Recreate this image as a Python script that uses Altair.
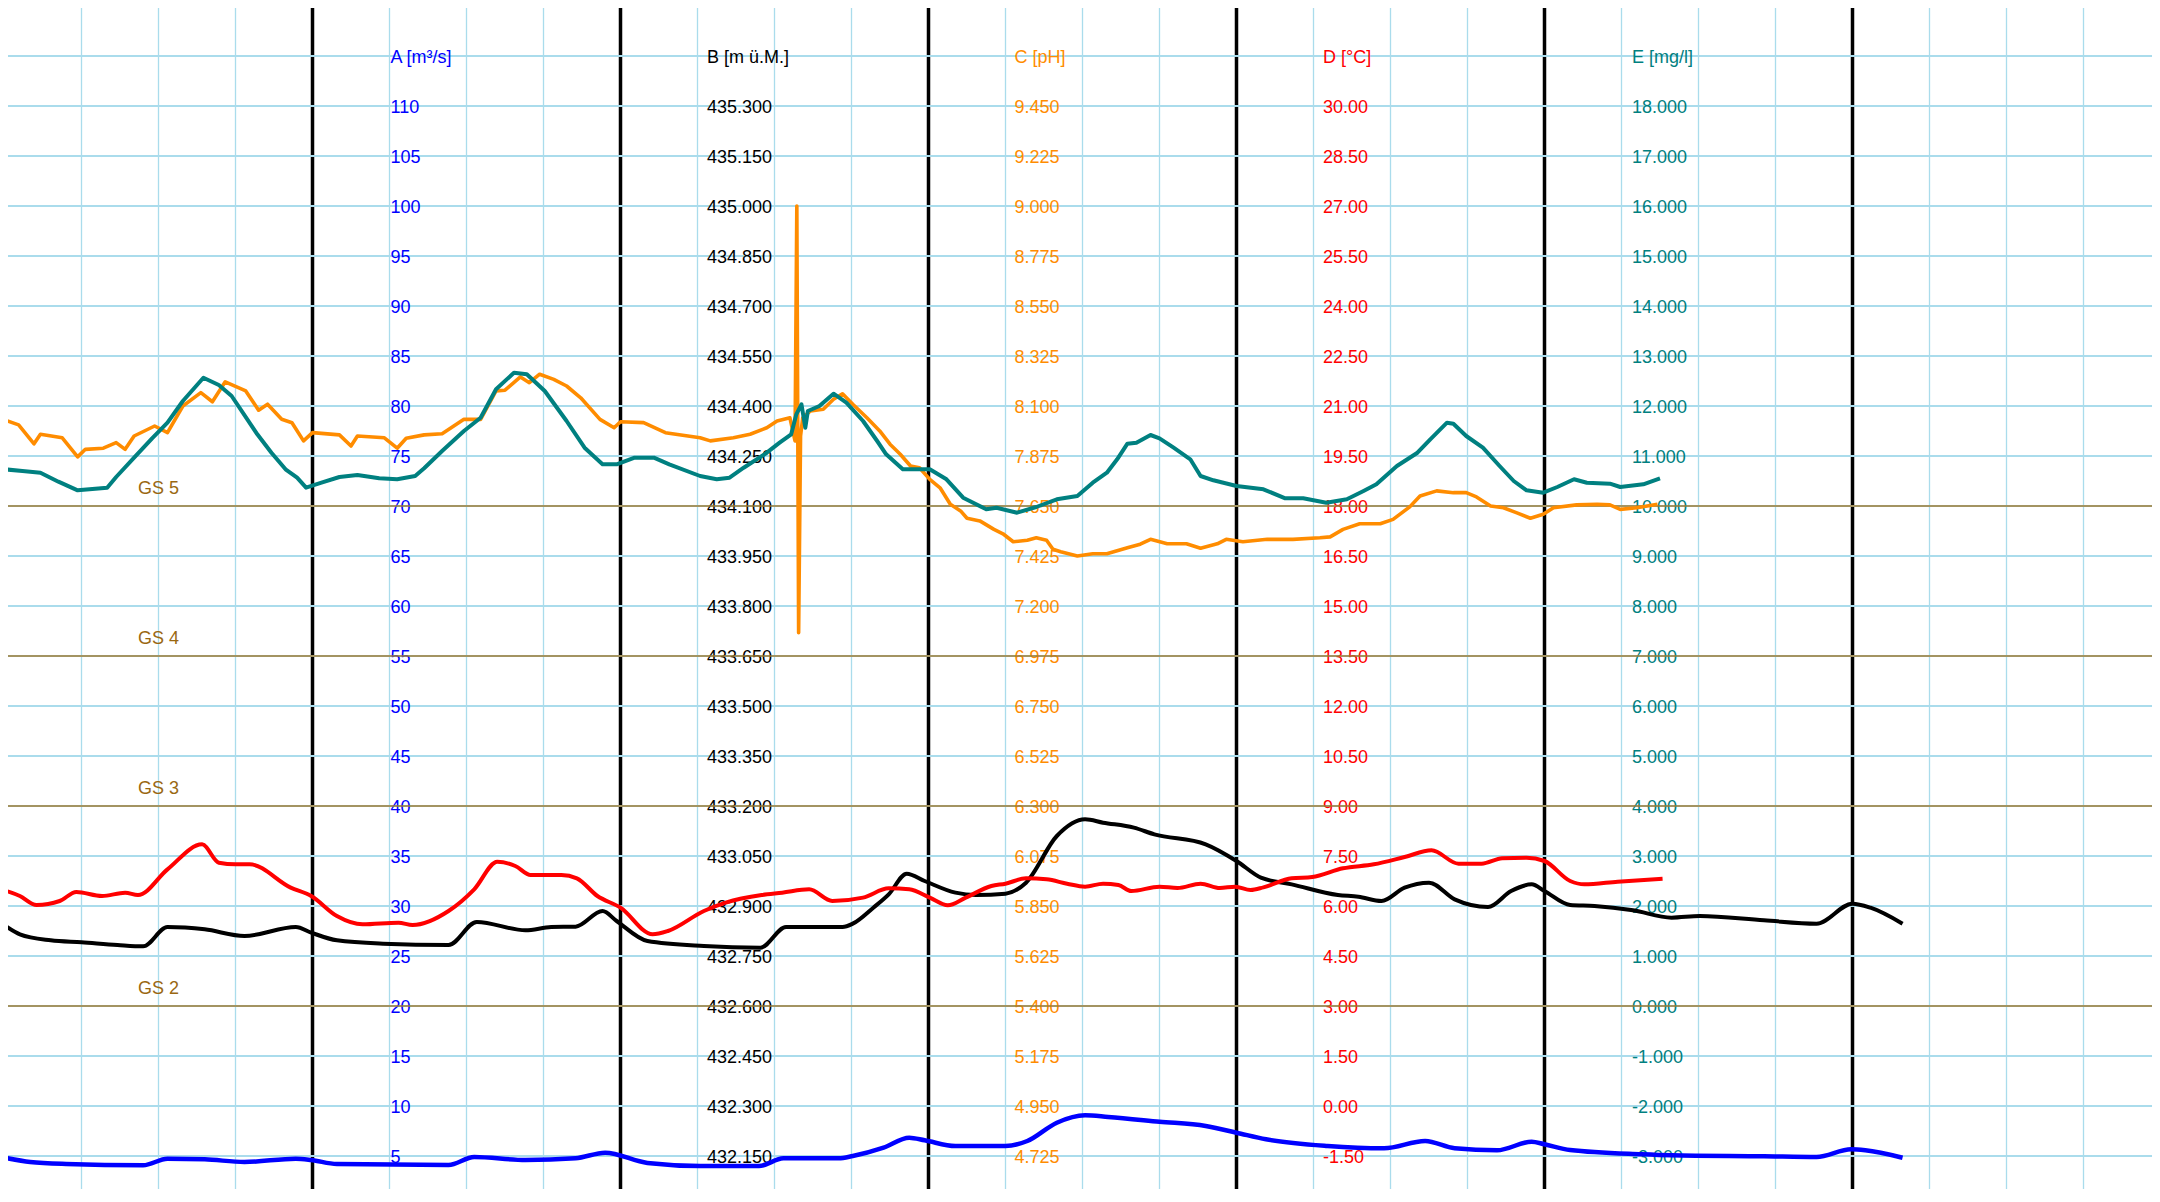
import altair as alt
import pandas as pd

FONT = "Liberation Sans"
GRID_COLOR = "#aadcec"
GS_TEXT = "#9a6812"
GS_LINE = "#a07c34"

# ---- time grid (hours over 7 days) ----
T_DOMAIN = [0, 168]
GRID_HOURS = list(range(0, 169, 6))
DAY_HOURS = list(range(0, 169, 24))

# ---- axis tick labels (all axes share the same rows) ----
A_LABELS = ["5", "10", "15", "20", "25", "30", "35", "40", "45", "50", "55", "60",
            "65", "70", "75", "80", "85", "90", "95", "100", "105", "110"]
B_LABELS = ["432.150", "432.300", "432.450", "432.600", "432.750", "432.900", "433.050",
            "433.200", "433.350", "433.500", "433.650", "433.800", "433.950", "434.100",
            "434.250", "434.400", "434.550", "434.700", "434.850", "435.000", "435.150", "435.300"]
C_LABELS = ["4.725", "4.950", "5.175", "5.400", "5.625", "5.850", "6.075", "6.300", "6.525",
            "6.750", "6.975", "7.200", "7.425", "7.650", "7.875", "8.100", "8.325", "8.550",
            "8.775", "9.000", "9.225", "9.450"]
D_LABELS = ["-1.50", "0.00", "1.50", "3.00", "4.50", "6.00", "7.50", "9.00", "10.50", "12.00",
            "13.50", "15.00", "16.50", "18.00", "19.50", "21.00", "22.50", "24.00", "25.50",
            "27.00", "28.50", "30.00"]
E_LABELS = ["-3.000", "-2.000", "-1.000", "0.000", "1.000", "2.000", "3.000", "4.000", "5.000",
            "6.000", "7.000", "8.000", "9.000", "10.000", "11.000", "12.000", "13.000", "14.000",
            "15.000", "16.000", "17.000", "18.000"]

A_DOMAIN = [0, 120]
B_DOMAIN = [432.0, 435.6]
C_DOMAIN = [4.5, 9.9]
D_DOMAIN = [-3.0, 33.0]
E_DOMAIN = [-4.0, 20.0]

GRID_LEVELS = list(range(0, 121, 5))
GS_LEVELS = [70, 55, 40, 20]
GS_NAMES = ["GS 5", "GS 4", "GS 3", "GS 2"]

# ---- series A: discharge [m3/s] ----
a_t = [0.0, 2.0, 4.8, 10.8, 12.7, 15.6, 18.7, 22.7, 23.9, 25.9, 34.6, 36.6, 40.6, 44.5, 46.8,
       50.1, 54.2, 58.8, 60.7, 65.0, 66.1, 68.5, 70.5, 71.7, 74.1, 78.0, 79.7, 82.0, 84.2, 86.0,
       90.0, 93.6, 96.0, 98.3, 103.1, 107.5, 110.7, 113.0, 116.3, 119.0, 120.0, 122.0, 127.6,
       129.9, 137.1, 141.2, 143.9, 145.0, 147.9]
a_v = [4.83, 4.4, 4.2, 4.07, 4.73, 4.67, 4.4, 4.73, 4.6, 4.2, 4.1, 4.9, 4.6, 4.77, 5.33, 4.3,
       4.0, 4.0, 4.77, 4.77, 5.0, 5.83, 6.83, 6.57, 6.0, 6.0, 6.5, 8.33, 9.07, 8.9, 8.43, 8.0,
       7.33, 6.67, 6.0, 5.77, 6.5, 5.77, 5.57, 6.43, 6.17, 5.6, 5.17, 5.07, 4.97, 4.9, 5.67,
       5.57, 4.83]

# ---- series B: water level [m ü.M.] ----
b_t = [0.0, 1.2, 3.6, 6.0, 8.8, 10.8, 12.7, 15.6, 18.7, 22.7, 23.9, 25.9, 29.5, 34.6, 36.8,
       40.6, 42.6, 44.5, 46.6, 47.7, 50.1, 54.5, 58.9, 60.9, 65.3, 66.1, 67.7, 68.9, 70.3, 71.7,
       74.1, 75.7, 78.0, 79.6, 82.0, 84.2, 85.6, 88.0, 89.6, 93.6, 96.0, 97.9, 100.3, 103.9,
       105.5, 107.3, 109.1, 111.0, 113.0, 115.6, 117.4, 119.0, 120.0, 122.0, 123.9, 126.9,
       129.9, 132.1, 137.1, 141.2, 144.0, 145.4, 147.9]
b_v = [432.842, 432.815, 432.797, 432.791, 432.783, 432.779, 432.837, 432.830, 432.810,
       432.837, 432.820, 432.797, 432.787, 432.783, 432.852, 432.827, 432.837, 432.838,
       432.885, 432.855, 432.795, 432.780, 432.775, 432.837, 432.837, 432.847, 432.895,
       432.935, 432.997, 432.975, 432.940, 432.933, 432.937, 432.970, 433.110, 433.160,
       433.150, 433.135, 433.115, 433.085, 433.035, 432.985, 432.965, 432.933, 432.928,
       432.915, 432.955, 432.970, 432.920, 432.897, 432.945, 432.965, 432.945, 432.903,
       432.900, 432.887, 432.865, 432.870, 432.857, 432.847, 432.907, 432.895, 432.847]

# ---- series C: pH ----
c_t = [0.0, 1.1, 2.3, 2.8, 4.5, 5.7, 6.3, 7.7, 8.7, 9.4, 10.1, 11.7, 12.7, 13.9, 15.3, 16.2,
       17.2, 18.8, 19.8, 20.5, 21.6, 22.4, 23.3, 24.0, 26.1, 27.0, 27.5, 29.6, 30.6, 31.3, 32.7,
       34.1, 35.8, 37.1, 38.3, 39.0, 40.2, 40.9, 41.7, 42.8, 43.8, 44.9, 46.4, 47.5, 48.0, 49.8,
       51.5, 54.2, 55.0, 56.8, 58.1, 59.4, 60.2, 61.2, 61.6, 61.74, 61.88, 62.03, 62.2, 62.8,
       63.8, 64.6, 65.3, 66.1, 67.2, 68.2, 69.0, 69.8, 70.6, 71.3, 72.1, 72.9, 73.7, 74.5, 75.0,
       76.0, 77.1, 77.8, 78.6, 79.7, 80.4, 81.2, 81.7, 82.3, 83.6, 84.8, 85.9, 87.5, 88.5, 89.3,
       90.6, 92.1, 93.2, 94.5, 95.2, 96.5, 98.4, 100.4, 102.5, 103.3, 104.3, 105.6, 107.2,
       108.2, 109.5, 110.3, 111.6, 112.9, 113.9, 114.7, 115.8, 116.8, 117.8, 118.9, 119.9,
       120.7, 122.5, 124.1, 125.1, 125.9, 127.2, 128.8]
c_v = [8.037, 8.015, 7.930, 7.973, 7.957, 7.871, 7.905, 7.910, 7.935, 7.905, 7.965, 8.010,
       7.980, 8.100, 8.160, 8.119, 8.209, 8.168, 8.081, 8.108, 8.040, 8.025, 7.943, 7.980,
       7.970, 7.920, 7.965, 7.957, 7.910, 7.955, 7.970, 7.975, 8.040, 8.040, 8.168, 8.171,
       8.231, 8.205, 8.243, 8.220, 8.190, 8.137, 8.040, 8.002, 8.029, 8.025, 7.980, 7.957,
       7.943, 7.957, 7.973, 8.002, 8.033, 8.047, 7.943, 9.000, 7.080, 7.965, 8.047, 8.078,
       8.085, 8.130, 8.155, 8.108, 8.047, 7.988, 7.928, 7.883, 7.830, 7.822, 7.770, 7.732,
       7.658, 7.628, 7.595, 7.583, 7.545, 7.525, 7.489, 7.496, 7.507, 7.496, 7.455, 7.444,
       7.425, 7.435, 7.435, 7.462, 7.478, 7.500, 7.480, 7.480, 7.460, 7.480, 7.500, 7.489,
       7.500, 7.500, 7.507, 7.511, 7.545, 7.570, 7.570, 7.590, 7.646, 7.695, 7.718, 7.710,
       7.710, 7.691, 7.650, 7.642, 7.620, 7.595, 7.613, 7.642, 7.655, 7.658, 7.655, 7.635,
       7.642, 7.658]

# ---- series D: temperature [°C] ----
d_t = [0.0, 1.2, 2.5, 4.3, 5.6, 7.6, 9.4, 10.4, 12.7, 15.4, 16.7, 18.0, 19.1, 22.3, 23.9,
       25.9, 27.9, 30.7, 31.8, 34.6, 36.6, 38.4, 39.8, 41.0, 43.4, 44.6, 46.2, 48.0, 50.5, 51.7,
       54.5, 56.2, 59.0, 60.6, 62.7, 64.5, 66.9, 68.9, 70.5, 72.1, 73.5, 74.9, 76.9, 78.0, 79.6,
       81.2, 82.8, 84.2, 85.6, 86.8, 87.8, 90.0, 91.4, 93.2, 94.7, 95.9, 97.1, 98.1, 100.3,
       101.9, 104.3, 106.7, 109.1, 111.2, 113.3, 115.1, 116.7, 118.6, 120.0, 122.0, 123.1,
       125.7, 129.2]
d_v = [6.47, 6.30, 6.03, 6.15, 6.42, 6.30, 6.40, 6.33, 7.10, 7.85, 7.30, 7.25, 7.25, 6.55,
       6.30, 5.70, 5.45, 5.50, 5.43, 5.85, 6.50, 7.33, 7.20, 6.93, 6.93, 6.83, 6.30, 5.95, 5.15,
       5.25, 5.85, 6.10, 6.33, 6.40, 6.50, 6.15, 6.25, 6.53, 6.50, 6.25, 6.02, 6.25, 6.60, 6.67,
       6.83, 6.80, 6.67, 6.58, 6.67, 6.63, 6.45, 6.58, 6.54, 6.67, 6.54, 6.58, 6.48, 6.56, 6.83,
       6.87, 7.13, 7.25, 7.47, 7.67, 7.27, 7.27, 7.43, 7.45, 7.35, 6.75, 6.65, 6.73, 6.82]

# ---- series E: concentration [mg/l] ----
e_t = [0.0, 1.4, 2.8, 4.2, 5.7, 8.0, 8.7, 10.1, 11.5, 12.7, 13.9, 15.5, 16.7, 17.7, 19.7,
       20.8, 21.9, 22.8, 23.5, 24.7, 26.1, 27.5, 29.2, 30.6, 32.0, 32.7, 34.1, 35.8, 37.1, 38.3,
       39.7, 40.7, 42.1, 43.8, 45.2, 46.6, 47.7, 49.1, 50.6, 51.8, 54.2, 55.5, 56.5, 57.6, 59.4,
       60.4, 61.3, 61.7, 62.1, 62.4, 62.6, 63.5, 64.6, 65.6, 66.9, 68.0, 68.7, 70.0, 70.8, 72.1,
       73.4, 74.7, 76.5, 77.3, 78.9, 80.4, 82.0, 83.6, 84.8, 85.9, 86.7, 87.5, 88.2, 89.3, 90.0,
       91.1, 92.4, 93.2, 94.2, 96.0, 98.1, 99.8, 101.2, 103.0, 104.6, 105.9, 106.9, 108.5,
       110.1, 111.1, 112.4, 112.9, 113.9, 115.2, 116.5, 117.6, 118.6, 119.9, 121.0, 122.3,
       123.3, 125.1, 125.9, 127.7, 129.0]
e_v = [10.734, 10.700, 10.666, 10.486, 10.314, 10.366, 10.580, 10.966, 11.354, 11.666,
       12.100, 12.566, 12.420, 12.200, 11.434, 11.066, 10.734, 10.566, 10.366, 10.466,
       10.580, 10.620, 10.554, 10.534, 10.600, 10.754, 11.100, 11.500, 11.766, 12.334,
       12.666, 12.634, 12.300, 11.700, 11.166, 10.834, 10.834, 10.966, 10.966, 10.834,
       10.600, 10.534, 10.566, 10.766, 11.066, 11.266, 11.434, 11.834, 12.034, 11.566,
       11.900, 12.000, 12.246, 12.066, 11.700, 11.300, 11.034, 10.734, 10.734, 10.734,
       10.534, 10.166, 9.934, 9.966, 9.866, 9.980, 10.134, 10.200, 10.466, 10.666,
       10.934, 11.246, 11.266, 11.420, 11.354, 11.166, 10.934, 10.600, 10.514, 10.400,
       10.334, 10.154, 10.154, 10.066, 10.134, 10.300, 10.434, 10.800, 11.066, 11.334,
       11.666, 11.646, 11.400, 11.166, 10.800, 10.500, 10.314, 10.266, 10.380, 10.534,
       10.466, 10.446, 10.380, 10.434, 10.554]


def yscale(dom):
    return alt.Scale(domain=dom, nice=False, zero=False)


x_enc = alt.X("t:Q", scale=alt.Scale(domain=T_DOMAIN, nice=False, zero=False), axis=None)


def y_enc(dom):
    return alt.Y("v:Q", scale=yscale(dom), axis=None)


layers = []

# thin vertical grid (6 h)
layers.append(alt.Chart(pd.DataFrame({"t": GRID_HOURS}))
              .mark_rule(color=GRID_COLOR, strokeWidth=1.3).encode(x=x_enc))
# thick day separators
layers.append(alt.Chart(pd.DataFrame({"t": DAY_HOURS}))
              .mark_rule(color="#000000", strokeWidth=3.5).encode(x=x_enc))
# horizontal grid
layers.append(alt.Chart(pd.DataFrame({"v": GRID_LEVELS}))
              .mark_rule(color=GRID_COLOR, strokeWidth=2).encode(y=y_enc(A_DOMAIN)))
# top border
layers.append(alt.Chart(pd.DataFrame({"v": [A_DOMAIN[1]]}))
              .mark_rule(color="#000000", strokeWidth=4).encode(y=y_enc(A_DOMAIN)))

# axis labels drawn inside the plot
AXES = [
    (A_LABELS, "A [m³/s]", A_DOMAIN, "#0000ff", 386),
    (B_LABELS, "B [m ü.M.]", B_DOMAIN, "#000000", 702.5),
    (C_LABELS, "C [pH]", C_DOMAIN, "#ff8c00", 1010),
    (D_LABELS, "D [°C]", D_DOMAIN, "#ff0000", 1318.5),
    (E_LABELS, "E [mg/l]", E_DOMAIN, "#008080", 1627.5),
]
for labels, header, dom, color, xpos in AXES:
    vals = [float(s) for s in labels]
    head_v = vals[-1] + (vals[-1] - vals[-2])
    df = pd.DataFrame({"v": vals + [head_v], "s": labels + [header]})
    layers.append(
        alt.Chart(df)
        .mark_text(align="left", baseline="middle", font=FONT, fontSize=18, color=color, dy=1.5)
        .encode(x=alt.value(xpos), y=y_enc(dom), text="s:N")
    )

# GS threshold lines with labels
gs_df = pd.DataFrame({"v": GS_LEVELS, "s": GS_NAMES})
layers.append(alt.Chart(gs_df).mark_rule(color=GS_LINE, strokeWidth=1.6).encode(y=y_enc(A_DOMAIN)))
layers.append(
    alt.Chart(gs_df)
    .mark_text(align="left", baseline="middle", font=FONT, fontSize=18, color=GS_TEXT, dy=-17.5)
    .encode(x=alt.value(133.5), y=y_enc(A_DOMAIN), text="s:N")
)

# data series
SERIES = [
    (a_t, a_v, A_DOMAIN, "#0000ff", 4.5, "monotone"),
    (b_t, b_v, B_DOMAIN, "#000000", 4.0, "monotone"),
    (d_t, d_v, D_DOMAIN, "#ff0000", 4.0, "monotone"),
    (c_t, c_v, C_DOMAIN, "#ff8c00", 3.6, "linear"),
    (e_t, e_v, E_DOMAIN, "#008080", 4.0, "linear"),
]
for ts, vs, dom, color, sw, interp in SERIES:
    df = pd.DataFrame({"t": ts, "v": vs})
    layers.append(
        alt.Chart(df)
        .mark_line(color=color, strokeWidth=sw, interpolate=interp, strokeJoin="round")
        .encode(x=x_enc, y=y_enc(dom))
    )

chart = (
    alt.layer(*layers)
    .resolve_scale(y="independent")
    .properties(
        width=2156,
        height=1200,
        padding={"left": -3.5, "top": -2, "right": -8.5, "bottom": -17},
        autosize=alt.AutoSizeParams(type="none"),
        background="white",
    )
    .configure_view(stroke=None)
)

chart.save("out.html", embed_options={"renderer": "svg", "actions": False})
